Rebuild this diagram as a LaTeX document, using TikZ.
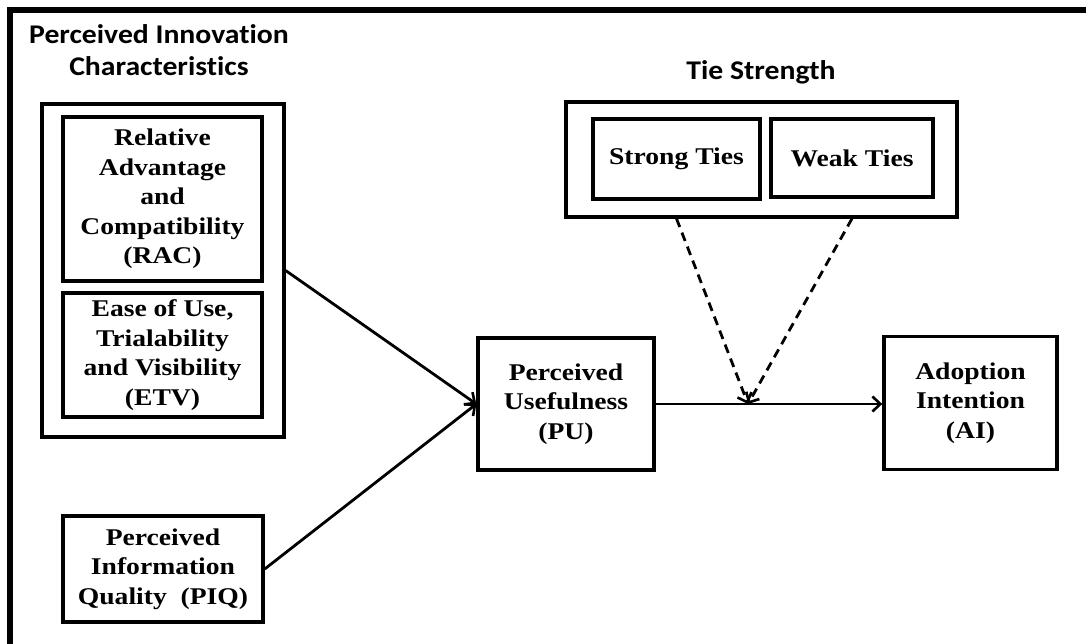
\documentclass[tikz,border=0pt]{standalone}
\usepackage{fontspec}
\setmainfont{Liberation Serif}[FakeStretch=1.15]
\newfontfamily\headfont{Carlito}[FakeStretch=1.1, Ligatures=CommonOff]
\usetikzlibrary{arrows.meta}

\tikzset{
  x=1pt, y=-1pt,
  box/.style={draw, line width=3.4pt, inner sep=0pt, align=center,
    font=\fontsize{24}{29.5}\selectfont\bfseries},
  group/.style={draw, line width=3.2pt, inner sep=0pt},
  heading/.style={align=center, inner sep=0pt,
    font=\headfont\fontsize{27}{32}\selectfont\bfseries},
  link/.style={line width=2.8pt, -{Straight Barb[length=8pt,width=15pt,line width=2.6pt]}},
  moderator/.style={link, dash pattern=on 9pt off 6pt}
}

\begin{document}
\begin{tikzpicture}
\useasboundingbox (0,0) rectangle (1086,644);
\fill[white] (0,0) rectangle (1086,644);

% frame along the top and left edges
\draw[line width=5.5pt] (10,644) -- (10,10) -- (1086,10);

% headings
\node[heading] (pichead) at (159,50) {Perceived Innovation\\Characteristics};
\node[heading] (tshead) at (761,72) {Tie Strength};

% perceived innovation characteristics
\node[group, minimum width=242, minimum height=333] (pic) at (163,270.5) {};
\node[box, minimum width=199, minimum height=164] (rac) at (162.5,199)
  {Relative\\Advantage\\and\\Compatibility\\(RAC)};
\node[box, minimum width=199, minimum height=124] (etv) at (162.5,355)
  {Ease of Use,\\Trialability\\and Visibility\\(ETV)};

\node[box, minimum width=200, minimum height=106] (piq) at (163,569)
  {Perceived\\Information\\Quality~~(PIQ)};

\node[box, minimum width=176, minimum height=132] (pu) at (566,404)
  {Perceived\\Usefulness\\(PU)};
\node[box, minimum width=173, minimum height=133] (ai) at (970.5,403)
  {Adoption\\Intention\\(AI)};

% tie strength
\node[group, minimum width=391, minimum height=115] (ts) at (761.5,159.5) {};
\node[box, minimum width=167, minimum height=80] (strong) at (676.5,159) {Strong Ties};
\node[box, minimum width=162, minimum height=78] (weak) at (852,158) {Weak Ties};

% paths
\draw[link] (pic.east) -- (pu.west);
\draw[link] (piq.east) -- (pu.west);
\draw[link] (pu.east) -- (pu.east -| ai.west);

\coordinate (mod) at (748,404);
\draw[moderator] (strong.south |- ts.south) -- (mod);
\draw[moderator] (weak.south |- ts.south) -- (mod);
\end{tikzpicture}
\end{document}
